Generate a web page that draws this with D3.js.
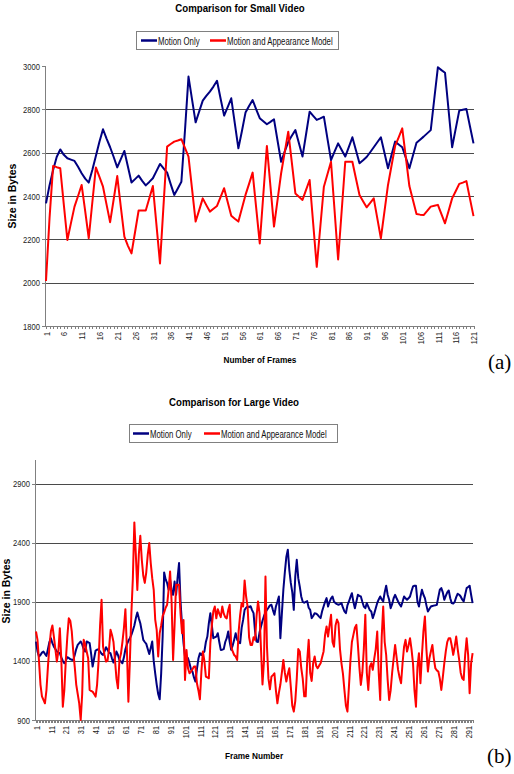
<!DOCTYPE html>
<html lang="en">
<head>
<meta charset="UTF-8">
<title>Comparison for Small / Large Video</title>
<script src="https://cdnjs.cloudflare.com/ajax/libs/d3/7.8.5/d3.min.js"></script>
<style>
    body { margin: 0; background: #fff; }
    svg text { font-family: "Liberation Sans", Arial, sans-serif; fill: #000; }
    .title { font-weight: bold; font-size: 11px; }
    .axisTitle { font-weight: bold; font-size: 9.5px; }
    .legendText { font-size: 10px; fill: #111; }
    .axis path, .axis line { fill: none; stroke: #808080; shape-rendering: crispEdges; }
    .axis text { font-size: 9.5px; fill: #222; }
    .grid line { stroke: #4a4a4a; shape-rendering: crispEdges; }
    svg text.tag { font-family: "Liberation Serif", "DejaVu Serif", serif; font-size: 21px; }
</style>
</head>
<body>
<script>
// ---- data ----
var seriesNames = ["Motion Only", "Motion and Appearance Model"];
var seriesColors = ["#000080", "#ff0000"];

// (a) small video, frames 1..121
var smallMotion = [
    2366, 2450, 2520, 2580, 2615, 2590, 2574, 2568, 2562, 2535,
    2505, 2480, 2462, 2520, 2585, 2650, 2708, 2665, 2625, 2580,
    2532, 2570, 2608, 2535, 2462, 2478, 2494, 2470, 2449, 2465,
    2482, 2515, 2548, 2528, 2508, 2455, 2405, 2435, 2466, 2700,
    2951, 2845, 2740, 2790, 2840, 2862, 2882, 2905, 2932, 2850,
    2771, 2810, 2851, 2735, 2620, 2700, 2785, 2815, 2843, 2800,
    2759, 2745, 2731, 2742, 2754, 2655, 2558, 2605, 2650, 2678,
    2704, 2643, 2582, 2685, 2789, 2770, 2751, 2758, 2766, 2665,
    2566, 2605, 2643, 2612, 2582, 2626, 2671, 2611, 2551, 2565,
    2580, 2602, 2625, 2648, 2671, 2600, 2528, 2590, 2651, 2638,
    2625, 2577, 2528, 2587, 2646, 2660, 2674, 2689, 2704, 2850,
    2994, 2981, 2969, 2797, 2625, 2710, 2794, 2798, 2802, 2722,
    2643
];
var smallAppearance = [
    2008, 2300, 2539, 2533, 2528, 2360, 2197, 2275, 2351, 2400,
    2451, 2330, 2205, 2370, 2532, 2488, 2443, 2360, 2279, 2385,
    2492, 2350, 2212, 2170, 2135, 2234, 2333, 2333, 2333, 2390,
    2446, 2268, 2089, 2360, 2628, 2640, 2651, 2656, 2662, 2622,
    2582, 2432, 2282, 2335, 2389, 2358, 2328, 2341, 2354, 2395,
    2436, 2372, 2309, 2295, 2282, 2343, 2405, 2456, 2508, 2345,
    2181, 2406, 2631, 2445, 2259, 2382, 2505, 2601, 2697, 2555,
    2412, 2397, 2382, 2428, 2474, 2273, 2073, 2258, 2443, 2500,
    2558, 2333, 2107, 2332, 2558, 2558, 2558, 2481, 2405, 2376,
    2348, 2368, 2389, 2297, 2205, 2328, 2451, 2541, 2631, 2671,
    2712, 2579, 2446, 2381, 2317, 2314, 2312, 2331, 2351, 2355,
    2359, 2316, 2274, 2331, 2389, 2422, 2456, 2462, 2469, 2388,
    2307
];
var smallXLabels = [1, 6, 11, 16, 21, 26, 31, 36, 41, 46, 51, 56, 61, 66, 71, 76, 81, 86, 91, 96, 101, 106, 111, 116, 121];
var smallYTicks = [1800, 2000, 2200, 2400, 2600, 2800, 3000];

// (b) large video, frames 1..294
var largeMotion = [
    1564, 1480, 1437, 1450, 1470, 1479, 1460, 1442, 1500, 1560,
    1592, 1550, 1520, 1500, 1480, 1470, 1465, 1430, 1400, 1380,
    1400, 1431, 1425, 1415, 1410, 1408, 1450, 1500, 1535, 1550,
    1564, 1540, 1500, 1479, 1564, 1558, 1550, 1460, 1352, 1420,
    1488, 1495, 1499, 1480, 1460, 1451, 1480, 1516, 1495, 1470,
    1465, 1420, 1386, 1430, 1479, 1450, 1408, 1395, 1380, 1430,
    1499, 1540, 1570, 1592, 1620, 1657, 1700, 1760, 1810, 1760,
    1719, 1650, 1578, 1560, 1544, 1500, 1459, 1510, 1564, 1400,
    1295, 1200, 1120, 1075, 1295, 1606, 2149, 2090, 2058, 2002,
    2086, 2000, 1959, 2072, 1960, 2100, 2228, 1900, 1705, 1550,
    1437, 1430, 1423, 1380, 1330, 1310, 1260, 1225, 1330, 1420,
    1465, 1450, 1470, 1479, 1560, 1606, 1719, 1804, 1700, 1592,
    1600, 1606, 1634, 1560, 1493, 1495, 1500, 1560, 1592, 1649,
    1560, 1493, 1530, 1580, 1634, 1580, 1560, 1550, 1680, 1747,
    1832, 1850, 1860, 1855, 1863, 1830, 1804, 1650, 1564, 1560,
    1640, 1691, 1740, 1780, 1810, 1832, 1850, 1870, 1875, 1830,
    1790, 1860, 1900, 1945, 1592, 1800, 2002, 2150, 2280, 2341,
    2171, 2060, 1980, 1832, 2115, 2256, 2100, 2030, 1945, 1900,
    1892, 1900, 1906, 1850, 1832, 1762, 1780, 1804, 1800, 1790,
    1775, 1762, 1820, 1860, 1900, 1931, 1860, 1900, 1930, 1945,
    1900, 1889, 1880, 1875, 1880, 1889, 1850, 1820, 1804, 1870,
    1903, 1940, 1973, 1900, 1846, 1900, 1959, 1950, 1945, 1900,
    1860, 1846, 1889, 1860, 1830, 1818, 1762, 1800, 1846, 1890,
    1920, 1945, 1920, 1903, 1980, 2036, 1960, 1917, 1846, 1880,
    1930, 1959, 1930, 1903, 1880, 1860, 1900, 1945, 1930, 1917,
    1930, 1945, 1990, 2030, 2036, 2036, 1900, 1860, 1940, 2002,
    1960, 1931, 1870, 1818, 1840, 1860, 1865, 1868, 1870, 1875,
    1940, 2002, 2016, 1980, 1917, 1950, 1980, 1996, 1930, 1889,
    1885, 1900, 1940, 1968, 1960, 1945, 1920, 1903, 1960, 2016,
    2025, 2036, 1960, 1889
];
var largeAppearance = [
    1649, 1578, 1400, 1200, 1100, 1070, 1041, 1150, 1350, 1521,
    1650, 1700, 1606, 1500, 1394, 1479, 1677, 1408, 1013, 1150,
    1400, 1600, 1760, 1740, 1650, 1480, 1350, 1200, 1120, 1041,
    900, 1120, 1578, 1540, 1480, 1423, 1154, 1145, 1140, 1120,
    1098, 1200, 1400, 1700, 1917, 1521, 1450, 1394, 1400, 1500,
    1663, 1620, 1560, 1408, 1250, 1168, 1408, 1460, 1560, 1677,
    1838, 1500, 1055, 1400, 1800, 2100, 2572, 2300, 2000, 2300,
    2459, 2256, 2120, 2060, 2150, 2300, 2397, 2228, 2100, 2002,
    1750, 1663, 1437, 1634, 1700, 1780, 1810, 1850, 1875, 2002,
    2157, 1900, 1408, 1705, 2044, 2044, 2044, 1800, 1634, 1747,
    1239, 1493, 1338, 1295, 1310, 1330, 1352, 1352, 1211, 1150,
    1075, 1310, 1480, 1400, 1267, 1260, 1253, 1550, 1700, 1820,
    1860, 1760, 1838, 1800, 1770, 1860, 1800, 1770, 1760, 1830,
    1875, 1521, 1480, 1450, 1437, 1408, 1650, 1790, 1889, 1860,
    2081, 1945, 1860, 1600, 1535, 1535, 1600, 1578, 1776, 1903,
    1804, 1500, 1200, 1400, 2115, 1521, 1250, 1160, 1267, 1280,
    1295, 1150, 1041, 1130, 1200, 1300, 1408, 1300, 1225, 1290,
    1338, 1180, 1020, 971, 1060, 1250, 1500, 1480, 1340, 1250,
    1100, 1100, 1400, 1578, 1300, 1230, 1380, 1437, 1360, 1338,
    1360, 1380, 1430, 1480, 1620, 1691, 1606, 1700, 1790, 1560,
    1520, 1700, 1750, 1719, 1500, 1380, 1290, 1150, 1020, 971,
    1180, 1400, 1560, 1620, 1680, 1705, 1540, 1350, 1197, 1300,
    1500, 1790, 1300, 1154, 1350, 1380, 1324, 1420, 1500, 1649,
    1300, 1069, 1600, 1860, 1560, 1450, 1239, 1069, 1150, 1300,
    1420, 1535, 1430, 1324, 1260, 1211, 1380, 1520, 1578, 1479,
    1530, 1592, 1500, 1380, 1150, 1013, 1350, 1465, 1211, 1450,
    1650, 1776, 1500, 1310, 1420, 1480, 1535, 1420, 1338, 1320,
    1310, 1250, 1154, 1260, 1380, 1480, 1560, 1592, 1592, 1530,
    1451, 1520, 1606, 1500, 1408, 1300, 1253, 1239, 1450, 1592,
    1451, 1126, 1380, 1465
];
var largeXLabels = [1, 11, 21, 31, 41, 51, 61, 71, 81, 91, 101, 111, 121, 131, 141, 151, 161, 171, 181, 191,
    201, 211, 221, 231, 241, 251, 261, 271, 281, 291];
var largeYTicks = [900, 1400, 1900, 2400, 2900];

// ---- canvas ----
var width = 514, height = 774;
var narrow = 0.8; // the original's labels are squeezed horizontally
var svg = d3.select("body").append("svg")
    .attr("width", width)
    .attr("height", height);

function drawPanel(p) {
    var frames = d3.range(1, p.series[0].length + 1);
    var x = d3.scaleLinear().domain([1, frames.length]).range([p.x0, p.x1]);
    var y = d3.scaleLinear().domain(p.yDomain).range([p.yBottom, p.yTop]);
    var g = svg.append("g");

    // title
    g.append("text").attr("class", "title")
        .attr("transform", "translate(" + p.titleX + "," + p.titleY + ") scale(0.88,1)")
        .attr("text-anchor", "middle")
        .text(p.title);

    // legend box
    var lg = g.append("g").attr("transform", "translate(" + p.legend.x + "," + p.legend.y + ")");
    lg.append("rect")
        .attr("x", 0.5).attr("y", 0.5)
        .attr("width", p.legend.w).attr("height", 18)
        .attr("fill", "#fff").attr("stroke", "#808080");
    seriesNames.forEach(function (name, k) {
        var ox = p.legend.items[k];
        lg.append("line")
            .attr("x1", ox).attr("x2", ox + 16)
            .attr("y1", 9.5).attr("y2", 9.5)
            .attr("stroke", seriesColors[k]).attr("stroke-width", 2.5);
        lg.append("text").attr("class", "legendText")
            .attr("transform", "translate(" + (ox + 17) + ",13.5) scale(0.78,1)")
            .text(name);
    });

    // horizontal gridlines
    g.append("g").attr("class", "grid")
        .selectAll("line")
        .data(p.grid)
        .enter()
        .append("line")
        .attr("x1", p.axisX).attr("x2", p.right)
        .attr("y1", function (d) { return Math.round(y(d)) + 0.5; })
        .attr("y2", function (d) { return Math.round(y(d)) + 0.5; });

    // y axis
    var yAxis = d3.axisLeft(y).tickValues(p.yTicks).tickSize(3).tickSizeOuter(0)
        .tickFormat(d3.format("d"));
    var gy = g.append("g").attr("class", "axis")
        .attr("transform", "translate(" + p.axisX + ",0)")
        .call(yAxis);
    gy.select(".domain").attr("d", "M0.5," + p.yTop + "V" + p.yBottom);
    gy.selectAll("text")
        .attr("x", -5 / narrow)
        .attr("transform", "scale(" + narrow + ",1)");

    // x axis: a tick for every frame, a label every few frames
    var labelSet = new Set(p.xLabels);
    var xAxis = d3.axisBottom(x).tickValues(frames).tickSize(3).tickSizeOuter(0)
        .tickFormat(function (d) { return labelSet.has(d) ? d : ""; });
    var gx = g.append("g").attr("class", "axis")
        .attr("transform", "translate(0," + p.yBottom + ")")
        .call(xAxis);
    gx.select(".domain").attr("d", "M" + p.axisX + ",0.5H" + p.right);
    gx.selectAll("text")
        .style("font-size", "9px")
        .attr("transform", "rotate(-90) scale(0.82,1)")
        .attr("text-anchor", "end")
        .attr("x", -6 / 0.82).attr("y", 0)
        .attr("dy", "0.35em");

    // series lines
    var line = d3.line()
        .x(function (d, i) { return x(frames[i]); })
        .y(function (d) { return y(d); });
    p.series.forEach(function (vals, k) {
        g.append("path")
            .datum(vals)
            .attr("fill", "none")
            .attr("stroke", seriesColors[k])
            .attr("stroke-width", 2)
            .attr("stroke-linejoin", "round")
            .attr("d", line);
    });

    // axis titles
    g.append("text").attr("class", "axisTitle")
        .attr("transform", "translate(" + p.xTitle[0] + "," + p.xTitle[1] + ") scale(0.87,1)")
        .attr("text-anchor", "middle")
        .text(p.xTitleText);
    g.append("text").attr("class", "axisTitle")
        .style("font-size", "10.5px")
        .attr("transform", "translate(" + p.yTitle[0] + "," + p.yTitle[1] + ") rotate(-90)")
        .attr("text-anchor", "middle")
        .text("Size in Bytes");

    // panel tag
    g.append("text").attr("class", "tag")
        .attr("x", p.tag[0]).attr("y", p.tag[1])
        .text(p.tagText);
}

drawPanel({
    title: "Comparison for Small Video", titleX: 240, titleY: 12,
    legend: { x: 136, y: 31, w: 202, items: [5, 74] },
    series: [smallMotion, smallAppearance],
    x0: 46, x1: 473.5, axisX: 45, right: 474,
    yDomain: [1800, 3000], yBottom: 326, yTop: 66,
    yTicks: smallYTicks, grid: [2000, 2200, 2400, 2600, 2800],
    xLabels: smallXLabels,
    xTitleText: "Number of Frames", xTitle: [260, 363],
    yTitle: [16, 196],
    tagText: "(a)", tag: [488, 369]
});

drawPanel({
    title: "Comparison for Large Video", titleX: 234, titleY: 406,
    legend: { x: 129, y: 424, w: 208, items: [4, 75] },
    series: [largeMotion, largeAppearance],
    x0: 36, x1: 472.6, axisX: 35, right: 473,
    yDomain: [900, 3100], yBottom: 720, yTop: 460,
    yTicks: largeYTicks, grid: [1400, 1900, 2400, 2900],
    xLabels: largeXLabels,
    xTitleText: "Frame Number", xTitle: [254, 759],
    yTitle: [10, 591],
    tagText: "(b)", tag: [487, 763]
});
</script>
</body>
</html>
